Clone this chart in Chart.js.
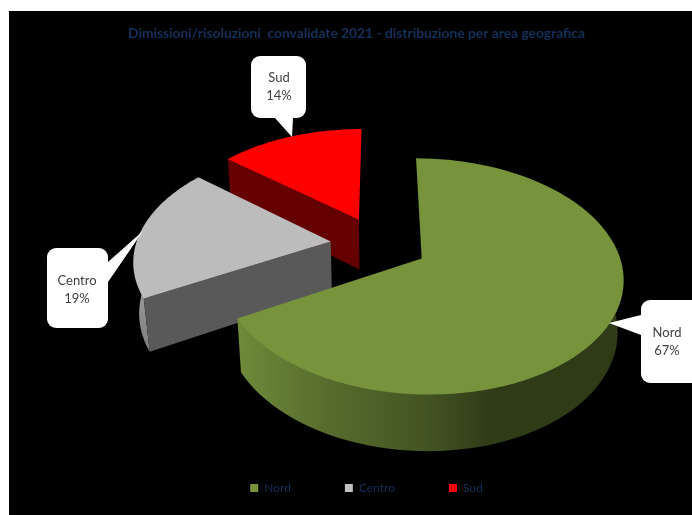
<!DOCTYPE html>
<html>
<head>
<meta charset="utf-8">
<style>
  html, body { margin: 0; padding: 0; background: #fff; }
  canvas { display: block; }
</style>
<script src="https://cdn.jsdelivr.net/npm/chart.js@4"></script>
</head>
<body>
<canvas id="pie" width="692" height="515"></canvas>
<script>
const categories = ["Nord", "Centro", "Sud"];
const values = [67, 19, 14];
const topColors = ["#77933c", "#bcbcbc", "#ff0000"];
const legendColors = ["#77933c", "#bfbfbf", "#ff0000"];
const sideColors = ["#3d4d1f", "#595959", "#640000"];

const FONT = 'Lato, "Liberation Sans", sans-serif';
const NAVY = "#14315c";

// camera for the tilted disc, in disc units where the pie radius is 1
const view = { x0: 379, y0: 244, rx: 194.7, ry: 111, tilt: 0.15, depth: 52, shrink: 0.024 };
const EXPLODE = 0.25;

function project(u, v, z) {
  const w = 1 - view.tilt * v + view.shrink * z;
  return [view.x0 + view.rx * u / w, view.y0 + (view.ry * v + view.depth * z) / w];
}

function trace(ctx, pts) {
  ctx.beginPath();
  pts.forEach((p, i) => (i ? ctx.lineTo(p[0], p[1]) : ctx.moveTo(p[0], p[1])));
  ctx.closePath();
}

function wallFill(ctx, i) {
  if (i === 0) {
    const g = ctx.createLinearGradient(236, 0, 620, 0);
    g.addColorStop(0, "#6f8b3a");
    g.addColorStop(0.25, "#566b2c");
    g.addColorStop(0.5, "#435423");
    g.addColorStop(0.66, "#303b18");
    g.addColorStop(1, "#2f3a17");
    return g;
  }
  if (i === 1) {
    const g = ctx.createLinearGradient(0, 240, 0, 346);
    g.addColorStop(0, "#b0b0b0");
    g.addColorStop(1, "#808080");
    return g;
  }
  return sideColors[i];
}

// extruded slices, drawn back to front from the angles Chart.js worked out
const extrudedPie = {
  id: "extrudedPie",
  beforeDatasetDraw(chart, args) {
    const ctx = chart.ctx;
    const arcs = chart.getDatasetMeta(args.index).data;
    const order = arcs.map((a, i) => i).reverse();
    order.forEach((i) => {
      const { startAngle, endAngle } = arcs[i];
      const mid = (startAngle + endAngle) / 2;
      const ox = Math.cos(mid) * EXPLODE;
      const oy = Math.sin(mid) * EXPLODE;
      const steps = 90;
      const rim = [];
      for (let s = 0; s <= steps; s++) {
        const a = startAngle + (endAngle - startAngle) * s / steps;
        rim.push({ u: ox + Math.cos(a), v: oy + Math.sin(a), front: Math.sin(a) > -0.2 });
      }
      const top = rim.map((p) => project(p.u, p.v, 0));
      const bottom = rim.map((p) => project(p.u, p.v, 1));
      const hub = project(ox, oy, 0);
      const hubLow = project(ox, oy, 1);

      // curved outer wall, front part only; its upper edge runs under the top face
      const front = rim.filter((p) => p.front);
      if (front.length > 1) {
        const inner = front.map((p) => project(ox + (p.u - ox) * 0.97, oy + (p.v - oy) * 0.97, 0));
        const lower = front.map((p) => project(p.u, p.v, 1)).reverse();
        const ends = [project(front[0].u, front[0].v, 0), project(front[front.length - 1].u, front[front.length - 1].v, 0)];
        trace(ctx, [ends[0]].concat(inner, [ends[1]], lower));
        ctx.fillStyle = wallFill(ctx, i);
        ctx.fill();
      }
      // flat cut walls, only where they face the viewer
      ctx.fillStyle = sideColors[i];
      if (Math.cos(endAngle) > 0.01) {
        trace(ctx, [hub, top[steps], bottom[steps], hubLow]);
        ctx.fill();
      }
      if (-Math.cos(startAngle) > 0.01) {
        trace(ctx, [hub, top[0], bottom[0], hubLow]);
        ctx.fill();
      }
      // top face
      trace(ctx, [hub].concat(top));
      ctx.fillStyle = topColors[i];
      ctx.fill();
    });
    return false;
  },
};

// box corners and tail of each value callout
const callouts = [
  { box: [641, 300, 60, 83], tail: [[641, 315], [609, 323], [641, 335]], text: [667, 333] },
  { box: [47, 248, 61, 80], tail: [[108, 262], [143, 231], [108, 282]], text: [77, 281] },
  { box: [251, 56, 55, 62], tail: [[275, 118], [292, 137], [293, 118]], text: [279, 78] },
];

const calloutLabels = {
  id: "calloutLabels",
  afterDatasetsDraw(chart) {
    const ctx = chart.ctx;
    callouts.forEach((c, i) => {
      ctx.fillStyle = "#fff";
      ctx.beginPath();
      ctx.roundRect(c.box[0], c.box[1], c.box[2], c.box[3], 9);
      ctx.fill();
      trace(ctx, c.tail);
      ctx.fill();
      ctx.fillStyle = "#404040";
      ctx.font = "13px " + FONT;
      ctx.textAlign = "center";
      ctx.textBaseline = "middle";
      ctx.fillText(categories[i], c.text[0], c.text[1]);
      ctx.fillText(values[i] + "%", c.text[0], c.text[1] + 18);
    });
  },
};

// white page with the black plot panel on it
const panel = {
  id: "panel",
  afterLayout(chart) {
    // the legend row sits a little right of the title's centre
    chart.legend.left += 10;
    chart.legend.right += 10;
  },
  beforeDraw(chart) {
    const ctx = chart.ctx;
    ctx.fillStyle = "#fff";
    ctx.fillRect(0, 0, chart.width, chart.height);
    ctx.fillStyle = "#000";
    ctx.fillRect(9, 11, chart.width - 9, chart.height - 11);
  },
};

new Chart(document.getElementById("pie"), {
  type: "pie",
  data: {
    labels: categories,
    datasets: [{ data: values, backgroundColor: legendColors, borderWidth: 0 }],
  },
  plugins: [panel, extrudedPie, calloutLabels],
  options: {
    responsive: false,
    animation: false,
    layout: { padding: { left: 21, top: 25, bottom: 11 } },
    plugins: {
      tooltip: { enabled: false },
      title: {
        display: true,
        text: "Dimissioni/risoluzioni  convalidate 2021 - distribuzione per area geografica",
        color: NAVY,
        font: { family: FONT, size: 13.8, weight: "bold" },
        padding: { top: 0, bottom: 0 },
      },
      legend: {
        position: "bottom",
        labels: {
          color: NAVY,
          font: { family: FONT, size: 12 },
          boxWidth: 8,
          boxHeight: 8,
          padding: 54,
        },
      },
    },
  },
});
</script>
</body>
</html>
